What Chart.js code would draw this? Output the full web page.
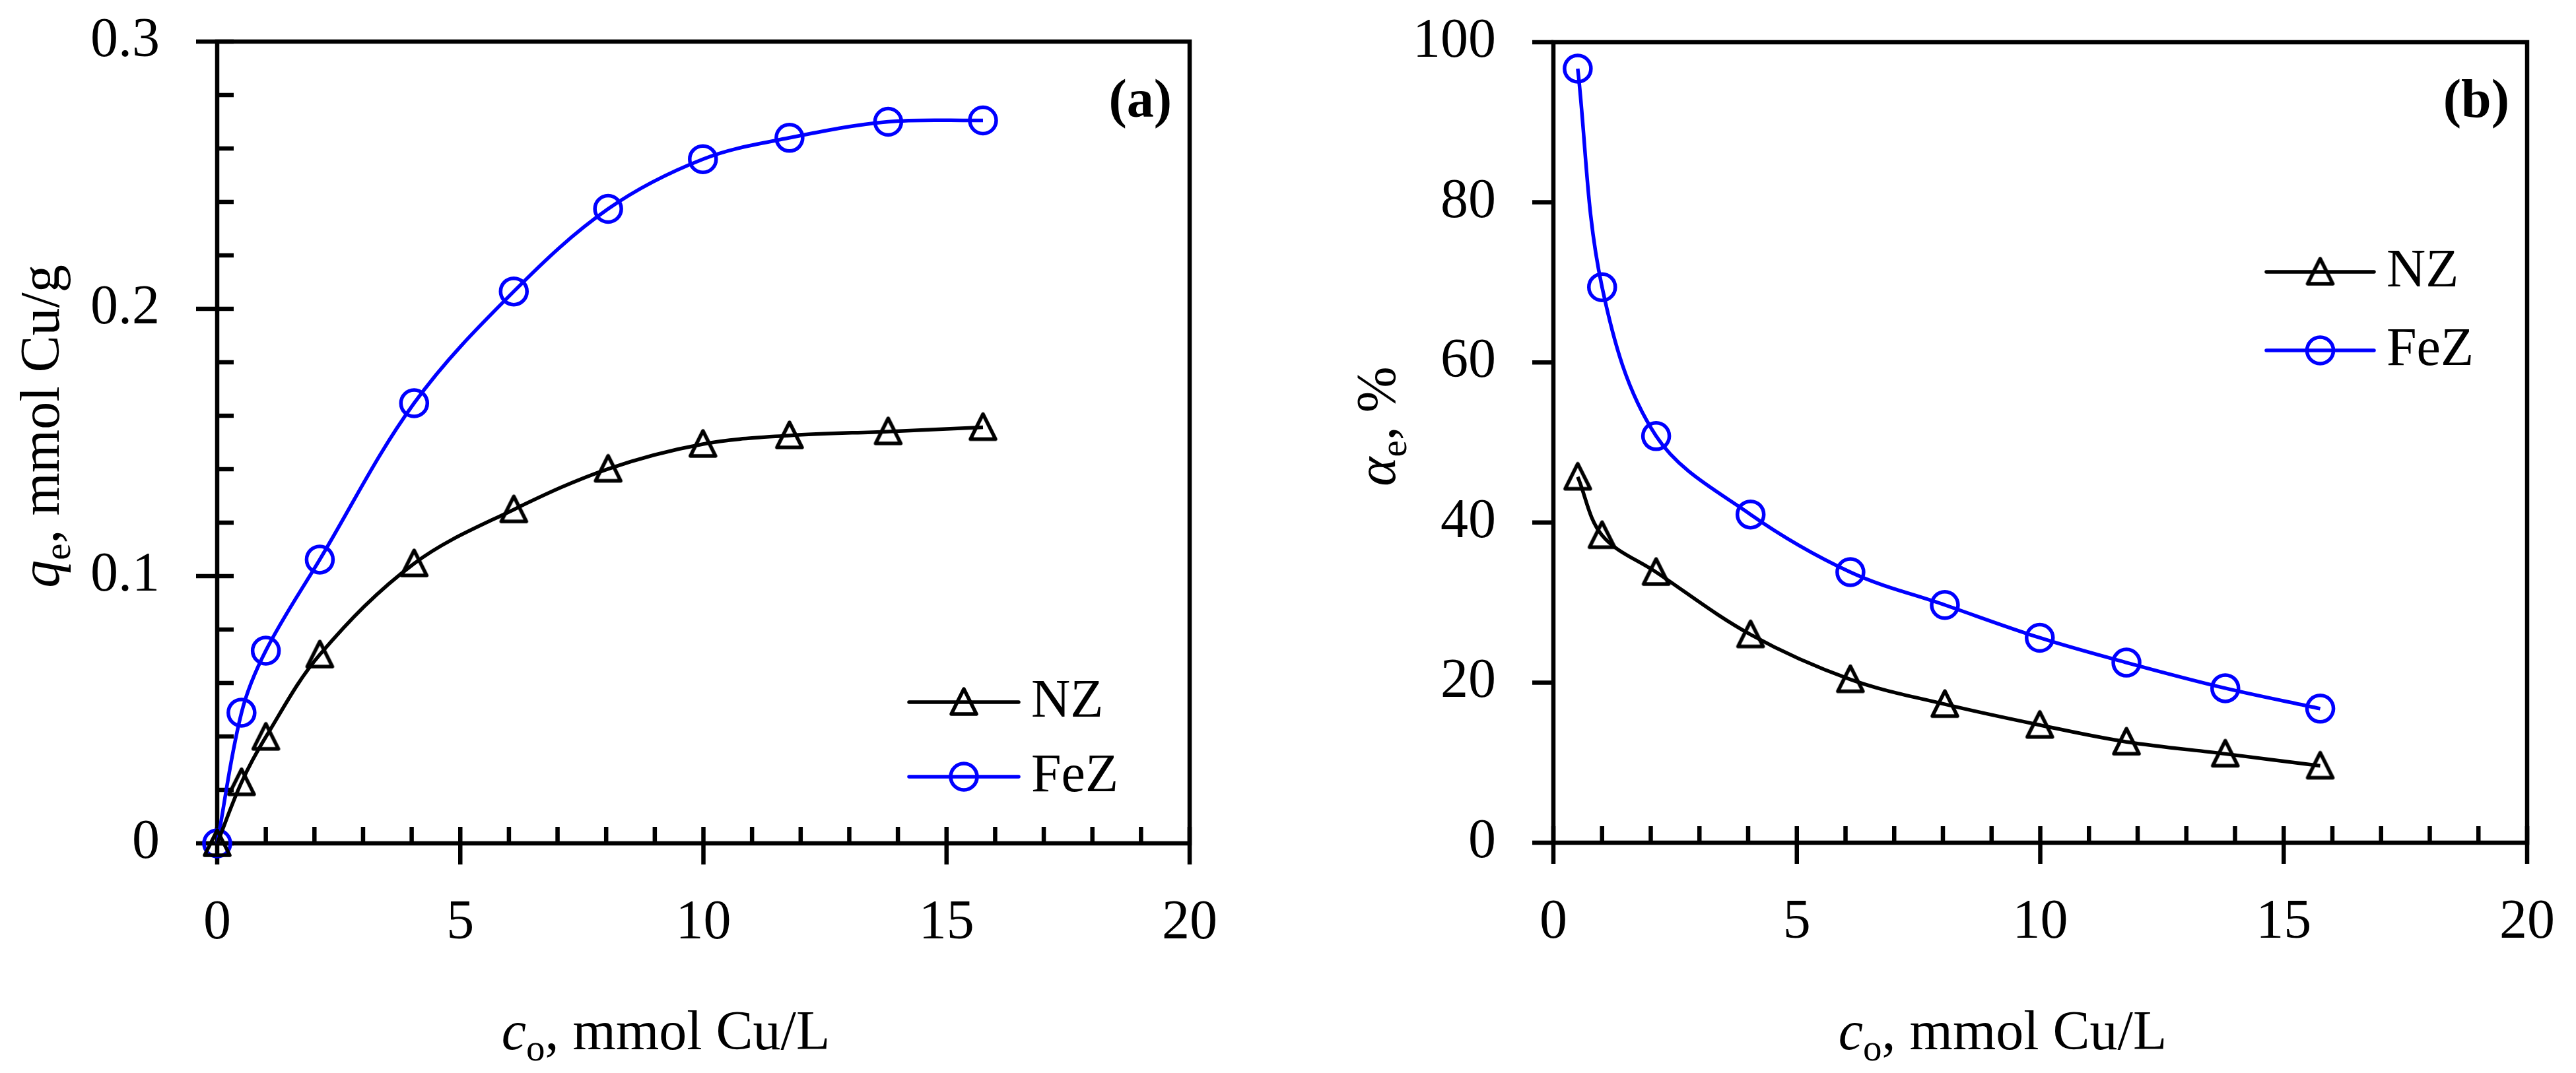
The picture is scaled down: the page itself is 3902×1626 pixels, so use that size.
<!DOCTYPE html>
<html>
<head>
<meta charset="utf-8">
<script src="https://cdn.jsdelivr.net/npm/chart.js@4.4.1/dist/chart.umd.min.js"></script>
<style>
html, body { margin: 0; padding: 0; background: #fff; }
#wrap { position: relative; width: 3902px; height: 1626px; }
.panel { position: absolute; top: 0; width: 1951px; height: 1626px; }
</style>
</head>
<body>
<div id="wrap">
  <div class="panel" style="left:0"><canvas id="chartA" width="1951" height="1626"></canvas></div>
  <div class="panel" style="left:1951px"><canvas id="chartB" width="1951" height="1626"></canvas></div>
</div>
<script>
// initial Cu concentration, mmol/L
const conc = [0.5, 1.0, 2.11, 4.05, 6.1, 8.04, 9.99, 11.77, 13.8, 15.75];
const concA = [0, ...conc];

// (a) uptake q_e, mmol Cu/g
const qNZ = [0, 0.0228, 0.0398, 0.0706, 0.1047, 0.1249, 0.1401, 0.1494, 0.1526, 0.1541, 0.1557];
const qFeZ = [0, 0.0489, 0.0721, 0.1062, 0.1647, 0.2065, 0.2374, 0.256, 0.264, 0.270, 0.2705];

// (b) removal alpha_e, %
const alphaNZ = [45.7, 38.4, 33.8, 26.0, 20.4, 17.3, 14.7, 12.6, 11.1, 9.6];
const alphaFeZ = [96.7, 69.4, 50.8, 41.0, 33.8, 29.7, 25.6, 22.5, 19.3, 16.75];

const seriesNames = ['NZ', 'FeZ'];
const xTicks = [0, 5, 10, 15, 20];
const qTicks = [0, 0.1, 0.2, 0.3];
const alphaTicks = [0, 20, 40, 60, 80, 100];

const SERIF = '"Liberation Serif", "Times New Roman", serif';
const BLUE = '#0000ff';
Chart.defaults.font.family = SERIF;
Chart.defaults.color = '#000';

// triangle marker (bbox centred on the point, like the original)
function makeTriangle(color) {
  const c = document.createElement('canvas');
  c.width = 50; c.height = 50;
  const g = c.getContext('2d');
  g.strokeStyle = color; g.lineWidth = 5.5; g.lineJoin = 'round';
  g.beginPath();
  g.moveTo(25, 5); g.lineTo(44, 43); g.lineTo(6, 43); g.closePath();
  g.stroke();
  return c;
}
const triangle = makeTriangle('#000');

const toXY = (xs, ys) => xs.map((x, i) => ({ x: x, y: ys[i] }));

function makeDatasets(xs, nz, fez) {
  return [{
    label: seriesNames[0],
    data: toXY(xs, nz),
    borderColor: '#000',
    borderWidth: 5.5,
    pointStyle: triangle,
    pointRadius: 22,
    tension: 0.35,
    clip: false
  }, {
    label: seriesNames[1],
    data: toXY(xs, fez),
    borderColor: BLUE,
    borderWidth: 5.5,
    pointStyle: 'circle',
    pointRadius: 20,
    pointBorderWidth: 5.5,
    pointBorderColor: BLUE,
    pointBackgroundColor: 'rgba(0,0,0,0)',
    tension: 0.35,
    clip: false
  }];
}

function drawRich(ctx, parts, x, y, size) {
  const fontOf = p => (p.italic ? 'italic ' : '') + Math.round(p.sub ? size * 0.68 : size) + 'px ' + SERIF;
  let total = 0;
  parts.forEach(p => { ctx.font = fontOf(p); p.w = ctx.measureText(p.t).width; total += p.w; });
  let cx = x - total / 2;
  ctx.textAlign = 'left';
  ctx.textBaseline = 'alphabetic';
  parts.forEach(p => {
    ctx.font = fontOf(p);
    ctx.fillText(p.t, cx, y + (p.sub ? size * 0.2 : 0));
    cx += p.w;
  });
}

// axes frame and tick marks
const framePlugin = {
  id: 'frame',
  beforeDatasetsDraw(chart, args, o) {
    const { ctx, chartArea: a } = chart;
    const x = chart.scales.x, y = chart.scales.y;
    ctx.save();
    ctx.strokeStyle = '#000';
    ctx.lineWidth = 6.5;
    ctx.strokeRect(a.left, a.top, a.right - a.left, a.bottom - a.top);
    ctx.beginPath();
    for (let v = x.min; v <= x.max + 1e-9; v += o.xMinor) {
      const px = x.getPixelForValue(v);
      const major = Math.abs(v / o.xMajor - Math.round(v / o.xMajor)) < 1e-6;
      ctx.moveTo(px, a.bottom - 25);
      ctx.lineTo(px, a.bottom + (major ? 32 : 0));
    }
    const yStep = o.yMinor || o.yMajor;
    for (let v = y.min; v <= y.max + 1e-9; v += yStep) {
      const py = y.getPixelForValue(v);
      const major = Math.abs(v / o.yMajor - Math.round(v / o.yMajor)) < 1e-6;
      ctx.moveTo(a.left + (o.yMinor ? 25 : 0), py);
      ctx.lineTo(a.left - (major ? 32 : 0), py);
    }
    ctx.stroke();
    ctx.restore();
  },
  afterDraw(chart, args, o) {
    const { ctx, chartArea: a } = chart;
    ctx.save();
    ctx.fillStyle = '#000';
    // x title
    drawRich(ctx, [
      { t: 'c', italic: true }, { t: 'o', sub: true }, { t: ', mmol Cu/L' }
    ], (a.left + a.right) / 2 - 57, 1590, 84);
    // y title
    ctx.save();
    ctx.translate(a.left - 240, 646);
    ctx.rotate(-Math.PI / 2);
    drawRich(ctx, o.yTitle, 0, 0, 84);
    ctx.restore();
    // panel letter
    ctx.font = 'bold 82px ' + SERIF;
    ctx.textAlign = 'right';
    ctx.textBaseline = 'alphabetic';
    ctx.fillText(o.letter, a.right - 27, 177);
    // legend
    const L = o.legend;
    chart.data.datasets.forEach((ds, i) => {
      const ly = L.y + i * L.dy;
      ctx.strokeStyle = ds.borderColor;
      ctx.lineWidth = 5.5;
      ctx.lineCap = 'round';
      ctx.beginPath();
      ctx.moveTo(L.x1, ly); ctx.lineTo(L.x2, ly);
      ctx.stroke();
      const mx = (L.x1 + L.x2) / 2;
      if (ds.pointStyle === 'circle') {
        ctx.beginPath();
        ctx.arc(mx, ly, ds.pointRadius, 0, Math.PI * 2);
        ctx.stroke();
      } else {
        ctx.drawImage(ds.pointStyle, mx - 25, ly - 25);
      }
      ctx.font = '82px ' + SERIF;
      ctx.textAlign = 'left';
      ctx.textBaseline = 'middle';
      ctx.fillText(ds.label, L.x2 + 19, ly);
    });
    ctx.restore();
  }
};

function makeChart(id, datasets, yTicks, yMax, opts) {
  return new Chart(document.getElementById(id).getContext('2d'), {
    type: 'line',
    data: { datasets: datasets },
    plugins: [framePlugin],
    options: {
      responsive: false,
      animation: false,
      events: [],
      layout: { padding: { left: 0, right: opts.padRight, top: opts.padTop, bottom: 0 } },
      plugins: {
        legend: { display: false },
        tooltip: { enabled: false },
        frame: opts.frame
      },
      scales: {
        x: {
          type: 'linear', min: 0, max: 20,
          grid: { display: false, drawTicks: false },
          border: { display: false },
          afterBuildTicks: s => { s.ticks = xTicks.map(v => ({ value: v })); },
          afterFit: s => { s.height = opts.xHeight; s.paddingLeft = 0; s.paddingRight = 0; },
          ticks: { padding: 72, font: { size: 84 }, color: '#000' }
        },
        y: {
          type: 'linear', min: 0, max: yMax,
          grid: { display: false, drawTicks: false },
          border: { display: false },
          afterBuildTicks: s => { s.ticks = yTicks.map(v => ({ value: v })); },
          afterFit: s => { s.width = opts.yWidth; s.paddingTop = 0; s.paddingBottom = 0; },
          ticks: { padding: 87, font: { size: 84 }, color: '#000', callback: v => String(v) }
        }
      }
    }
  });
}

makeChart('chartA', makeDatasets(concA, qNZ, qFeZ), qTicks, 0.3, {
  padRight: 149, padTop: 63, xHeight: 348, yWidth: 329,
  frame: {
    xMajor: 5, xMinor: 1, yMajor: 0.1, yMinor: 0.02, letter: '(a)',
    yTitle: [{ t: 'q', italic: true }, { t: 'e', sub: true }, { t: ', mmol Cu/g' }],
    legend: { x1: 1377, x2: 1543, y: 1064, dy: 113 }
  }
});

makeChart('chartB', makeDatasets(conc, alphaNZ, alphaFeZ), alphaTicks, 100, {
  padRight: 74, padTop: 64, xHeight: 349, yWidth: 402,
  frame: {
    xMajor: 5, xMinor: 1, yMajor: 20, yMinor: null, letter: '(b)',
    yTitle: [{ t: 'α', italic: true }, { t: 'e', sub: true }, { t: ', %' }],
    legend: { x1: 3433 - 1951, x2: 3596 - 1951, y: 412, dy: 119 }
  }
});
</script>
</body>
</html>
